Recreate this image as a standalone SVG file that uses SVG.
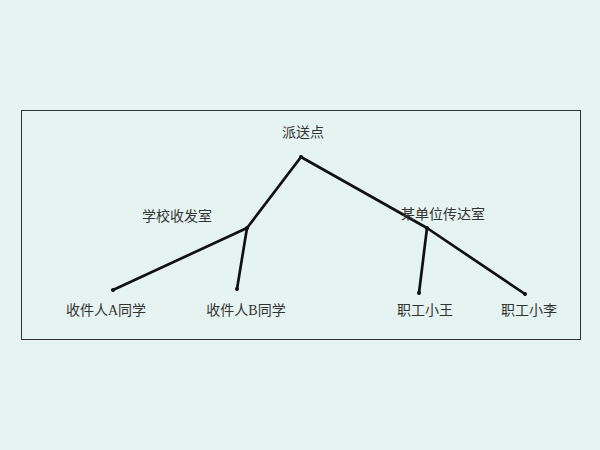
<svg xmlns="http://www.w3.org/2000/svg" width="600" height="450" viewBox="0 0 600 450">
<style>
text{font-family:"Liberation Serif","Noto Sans CJK SC",serif;font-size:14px;fill:#333;text-anchor:middle}
.e{stroke:#111;stroke-width:2.7;fill:none;stroke-linecap:round}
.d{fill:#111}
</style>
<rect width="600" height="450" fill="#e6f4f1"/>
<rect x="21.5" y="110.5" width="559" height="229" fill="none" stroke="#333" stroke-width="1"/>
<g id="connectors">
<line class="e" x1="301" y1="157" x2="247" y2="228" stroke-width="2"/>
<line class="e" x1="301" y1="157" x2="427" y2="228"/>
<line class="e" x1="247" y1="228" x2="113" y2="290"/>
<line class="e" x1="247" y1="228" x2="237" y2="289"/>
<line class="e" x1="427" y1="228" x2="419" y2="293"/>
<line class="e" x1="427" y1="228" x2="525" y2="294"/>
</g>
<g id="root"><circle class="d" cx="301" cy="157" r="2"/><text x="303" y="137">派送点</text></g>
<g id="school"><circle class="d" cx="247" cy="228" r="2"/><text x="177" y="221">学校收发室</text></g>
<g id="unit"><circle class="d" cx="427" cy="228" r="2"/><text x="443" y="219">某单位传达室</text></g>
<g id="a"><circle class="d" cx="113" cy="290" r="2"/><text x="106" y="315">收件人A同学</text></g>
<g id="b"><circle class="d" cx="237" cy="289" r="2"/><text x="246" y="315">收件人B同学</text></g>
<g id="wang"><circle class="d" cx="419" cy="293" r="2"/><text x="425" y="315">职工小王</text></g>
<g id="li"><circle class="d" cx="525" cy="294" r="2"/><text x="529" y="315">职工小李</text></g>
</svg>
